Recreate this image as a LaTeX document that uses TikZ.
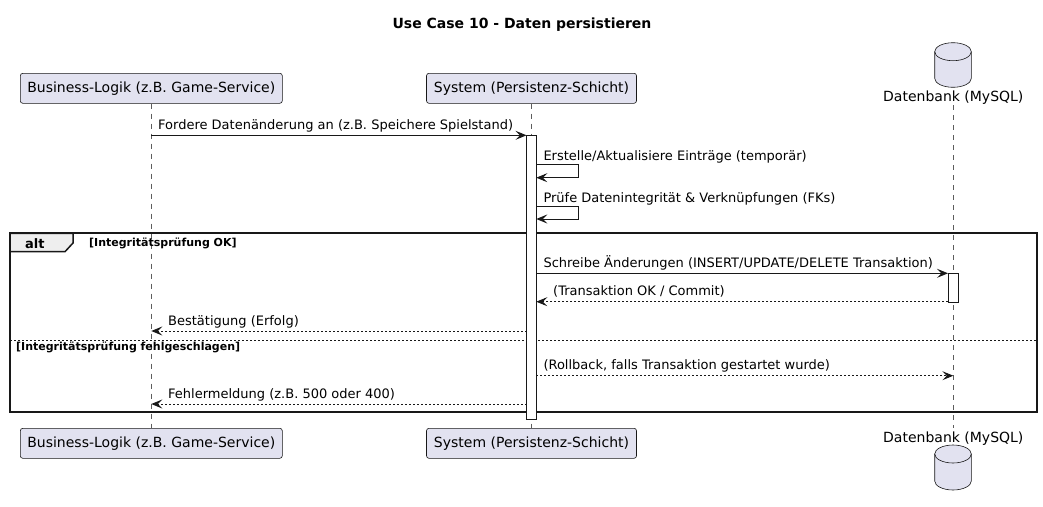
\documentclass[tikz,border=0pt]{standalone}
\usepackage{fontspec}
\setmainfont{DejaVu Sans}
\usetikzlibrary{arrows.meta}
\definecolor{partfill}{HTML}{E2E2F0}
\definecolor{ln}{HTML}{181818}
\definecolor{grpfill}{HTML}{EEEEEE}
\begin{document}
\begin{tikzpicture}[x=1pt,y=-1pt,
  part/.style={draw=ln,fill=partfill,rounded corners=2.5pt,minimum height=30pt,inner sep=0pt,font=\fontsize{14}{16}\selectfont,line width=0.6pt},
  lifeline/.style={draw=ln!70,dash pattern=on 5pt off 5pt,line width=0.5pt},
  msg/.style={draw=ln,line width=0.9pt,-{Stealth[length=11pt,width=9pt,inset=4.5pt]}},
  ret/.style={msg,dash pattern=on 2pt off 2pt},
  lbl/.style={anchor=base west,inner sep=0pt,font=\fontsize{13}{15}\selectfont},
  actbar/.style={draw=ln,fill=white,line width=0.8pt},
  cond/.style={anchor=base west,inner sep=0pt,font=\bfseries\fontsize{11}{13}\selectfont},
  dbshape/.style={draw=ln,fill=partfill,line width=0.6pt},
  dblabel/.style={anchor=base,inner sep=0pt,font=\fontsize{14}{16}\selectfont}
]
\useasboundingbox (0,0) rectangle (1043,506);
\fill[white] (0,0) rectangle (1043,506);

% title
\node[anchor=base,inner sep=0pt,font=\bfseries\fontsize{14}{16}\selectfont] (title) at (522,28) {Use Case 10 - Daten persistieren};

% participants top
\node[part,minimum width=262pt] (bl) at (151.3,88.3) {Business-Logik (z.B. Game-Service)};
\node[part,minimum width=210pt] (sys) at (531.5,88.3) {System (Persistenz-Schicht)};
% participants bottom
\node[part,minimum width=262pt] (blb) at (151.3,443.3) {Business-Logik (z.B. Game-Service)};
\node[part,minimum width=210pt] (sysb) at (531.5,443.3) {System (Persistenz-Schicht)};

% database top
\filldraw[dbshape] (934.7,51.7) -- (934.7,78.3) arc[start angle=180,end angle=0,x radius=18.3,y radius=9] -- (971.3,51.7) arc[start angle=0,end angle=-180,x radius=18.3,y radius=9] -- cycle;
\draw[draw=ln,line width=0.6pt] (934.7,51.7) arc[start angle=180,end angle=0,x radius=18.3,y radius=9];
\node[dblabel] (db) at (953.3,101) {Datenbank (MySQL)};
% database bottom
\node[dblabel] (dbb) at (953.3,442.7) {Datenbank (MySQL)};
\filldraw[dbshape] (934.7,454) -- (934.7,481) arc[start angle=180,end angle=0,x radius=18.3,y radius=9] -- (971.3,454) arc[start angle=0,end angle=-180,x radius=18.3,y radius=9] -- cycle;
\draw[draw=ln,line width=0.6pt] (934.7,454) arc[start angle=180,end angle=0,x radius=18.3,y radius=9];

% lifelines
\draw[lifeline] (bl.south) -- (blb.north);
\draw[lifeline] (sys.south) -- (sysb.north);
\coordinate (dbtop) at (953.3,105);
\coordinate (dbbot) at (953.3,428.3);
\draw[lifeline] (dbtop) -- (dbbot);

% alt frame
\draw[draw=ln,line width=2pt] (10,233.3) rectangle (1036.7,412.3);
\filldraw[fill=grpfill,draw=ln,line width=1.5pt] (10,233.3) -- (73,233.3) -- (73,243) -- (65,251.7) -- (10,251.7) -- cycle;
\node[anchor=base west,inner sep=0pt,font=\bfseries\fontsize{13}{15}\selectfont] (alt) at (25,248) {alt};
\node[cond] (c1) at (89,246.5) {[Integritätsprüfung OK]};
\draw[draw=ln,line width=0.8pt,dash pattern=on 2pt off 2pt] (10,340) -- (1036.7,340);
\node[cond] (c2) at (16,350.5) {[Integritätsprüfung fehlgeschlagen]};

% activation bars
\filldraw[actbar] (526.5,135.3) rectangle (536.3,419) ;
\coordinate (sysL1) at (526.5,135.3);
\filldraw[actbar] (948,273.3) rectangle (958,302.3);

% message 1
\coordinate (m1a) at (151.3,135.3);
\draw[msg] (m1a) -- (sysL1);
\node[lbl] (t1) at (158,129.5) {Fordere Datenänderung an (z.B. Speichere Spielstand)};

% self message 1
\coordinate (s1a) at (536.3,164.3);
\coordinate (s1b) at (578.7,164.3);
\coordinate (s1c) at (578.7,177.7);
\coordinate (s1d) at (536.3,177.7);
\draw[msg] (s1a) -- (s1b) -- (s1c) -- (s1d);
\node[lbl] (t2) at (543.3,160) {Erstelle/Aktualisiere Einträge (temporär)};

% self message 2
\coordinate (s2a) at (536.3,206.3);
\coordinate (s2b) at (578.7,206.3);
\coordinate (s2c) at (578.7,219);
\coordinate (s2d) at (536.3,219);
\draw[msg] (s2a) -- (s2b) -- (s2c) -- (s2d);
\node[lbl] (t3) at (543.3,202) {Prüfe Datenintegrität \& Verknüpfungen (FKs)};

% message 4
\coordinate (m4a) at (536.3,273.3);
\coordinate (m4b) at (948,273.3);
\draw[msg] (m4a) -- (m4b);
\node[lbl] (t4) at (543.3,267.3) {Schreibe Änderungen (INSERT/UPDATE/DELETE Transaktion)};

% message 5
\coordinate (m5a) at (948,301.7);
\coordinate (m5b) at (536.3,301.7);
\draw[ret] (m5a) -- (m5b);
\node[lbl] (t5) at (553,295.7) {(Transaktion OK / Commit)};

% message 6
\coordinate (m6a) at (526.5,331);
\coordinate (m6b) at (151.3,331);
\draw[ret] (m6a) -- (m6b);
\node[lbl] (t6) at (168,325) {Bestätigung (Erfolg)};

% message 7
\coordinate (m7a) at (536.3,375.7);
\coordinate (m7b) at (953.3,375.7);
\draw[ret] (m7a) -- (m7b);
\node[lbl] (t7) at (543.3,369.7) {(Rollback, falls Transaktion gestartet wurde)};

% message 8
\coordinate (m8a) at (526.5,404);
\coordinate (m8b) at (151.3,404);
\draw[ret] (m8a) -- (m8b);
\node[lbl] (t8) at (168,398) {Fehlermeldung (z.B. 500 oder 400)};

\end{tikzpicture}
\end{document}
